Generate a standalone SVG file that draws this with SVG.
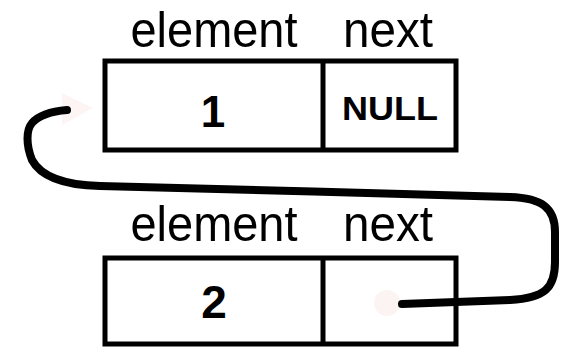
<svg xmlns="http://www.w3.org/2000/svg" width="561" height="347" viewBox="0 0 561 347">
<style>
.box{fill:#fff;stroke:#000;stroke-width:5}
.lbl{font-family:"Liberation Sans",Arial,sans-serif;font-size:50px;fill:#000;text-anchor:middle}
.val{font-family:"Liberation Sans",Arial,sans-serif;font-weight:bold;fill:#000;text-anchor:middle}
.link{fill:none;stroke:#000;stroke-width:8;stroke-linecap:round;stroke-linejoin:round}
</style>
<rect width="561" height="347" fill="#fff"/>
<g id="node1">
<text class="lbl" x="214" y="47" textLength="167" lengthAdjust="spacingAndGlyphs">element</text>
<text class="lbl" x="388" y="47" textLength="90" lengthAdjust="spacingAndGlyphs">next</text>
<rect class="box" x="105" y="61" width="351" height="89"/>
<line class="box" x1="323" y1="61" x2="323" y2="150"/>
<text class="val" x="213" y="127" font-size="44">1</text>
<text class="val" x="390" y="120" font-size="33" textLength="96" lengthAdjust="spacingAndGlyphs">NULL</text>
</g>
<g id="node2">
<text class="lbl" x="214" y="241" textLength="167" lengthAdjust="spacingAndGlyphs">element</text>
<text class="lbl" x="388" y="241" textLength="90" lengthAdjust="spacingAndGlyphs">next</text>
<rect class="box" x="105" y="258" width="351" height="86"/>
<line class="box" x1="323" y1="258" x2="323" y2="344"/>
<text class="val" x="214" y="318" font-size="46">2</text>
</g>
<g id="connectors">
<polygon points="62,93 93,108 62,125" fill="#fdf5f3"/>
<circle cx="387" cy="303" r="13" fill="#fcf4f3"/>
<path class="link" d="M 402 304 L 510 300 C 545 298, 555 288, 555 262 L 555 232 C 555 208, 542 198, 510 197 C 400 193, 200 189, 100 186 C 60 185, 40 175, 32 160 C 26 145, 26 130, 32 123 C 40 114, 55 111, 67 110"/>
</g>
</svg>
